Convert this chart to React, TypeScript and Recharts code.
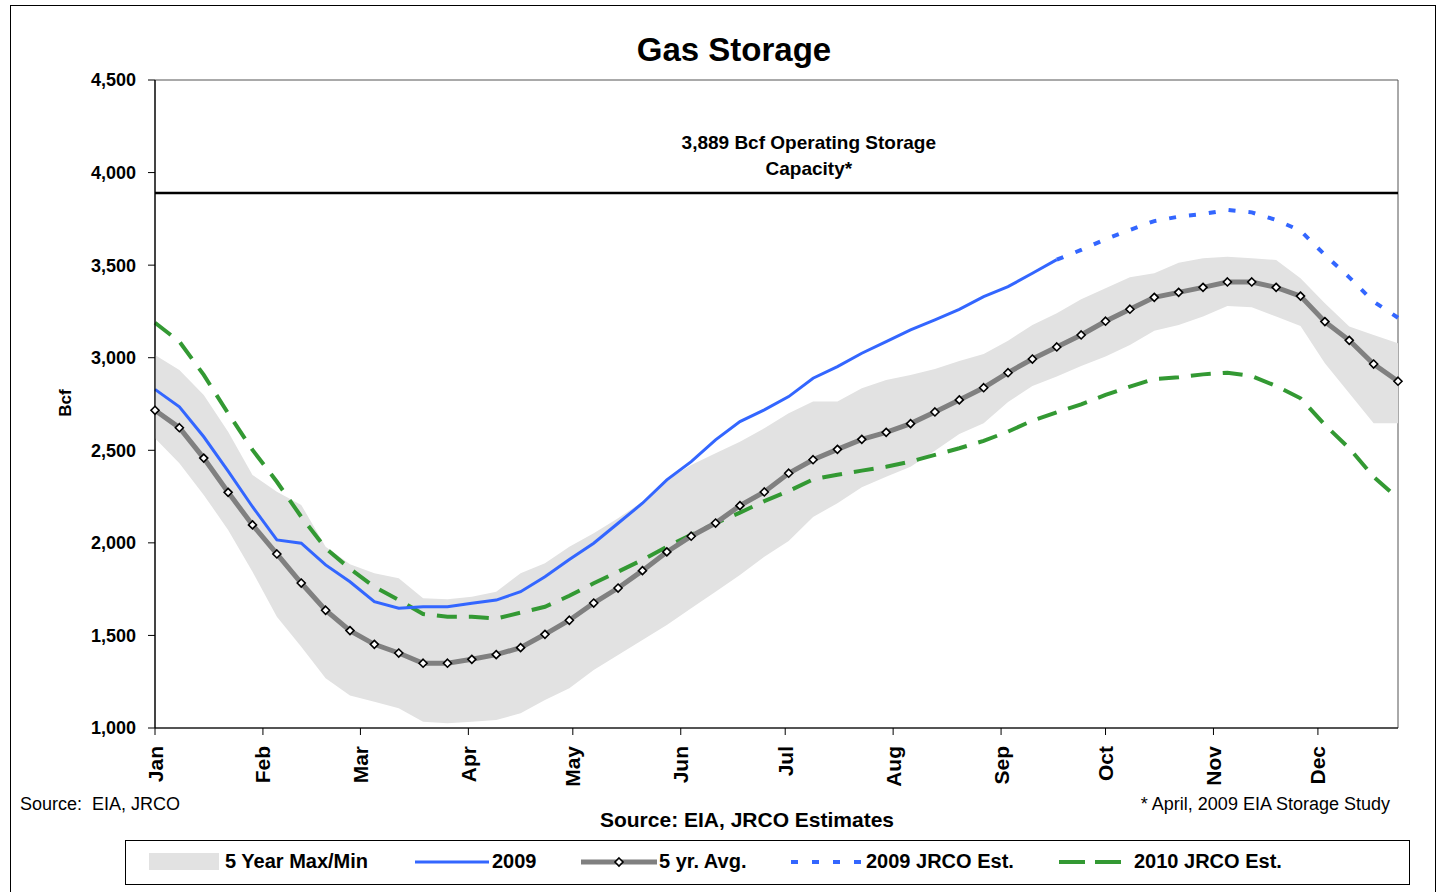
import React from "react";
import { ComposedChart, Area, Line, XAxis, YAxis, ReferenceLine, ReferenceArea, Legend, Label } from "recharts";

const FONT = '"Liberation Sans", Arial, sans-serif';

// day of year for each weekly report (week 0 = Jan 1)
const weekDays = [
  0, 7, 14, 21, 28, 35, 42, 49, 56, 63, 70, 77, 84, 91, 98, 105, 112, 119, 126, 133, 140, 147, 154, 161, 168, 175,
  182, 189, 196, 203, 210, 217, 224, 231, 238, 245, 252, 259, 266, 273, 280, 287, 294, 301, 308, 315, 322, 329, 336, 343, 350, 357,
];

const monthTicks = [0, 31, 59, 90, 120, 151, 181, 212, 243, 273, 304, 334];
const monthNames = ["Jan", "Feb", "Mar", "Apr", "May", "Jun", "Jul", "Aug", "Sep", "Oct", "Nov", "Dec"];
const yTicks = [1000, 1500, 2000, 2500, 3000, 3500, 4000, 4500];

const bandMin = [
  2565, 2430, 2259, 2070, 1844, 1601, 1439, 1269, 1176, 1142, 1107, 1034, 1026, 1034, 1043, 1080, 1151, 1215, 1313, 1394,
  1475, 1556, 1647, 1736, 1827, 1925, 2010, 2140, 2214, 2300, 2357, 2411, 2498, 2588, 2646, 2761, 2847, 2898, 2955, 3006,
  3069, 3146, 3177, 3222, 3279, 3272, 3222, 3171, 2970, 2808, 2646, 2646,
];
const bandMax = [
  3015, 2934, 2799, 2600, 2367, 2276, 2205, 1979, 1885, 1836, 1809, 1701, 1695, 1709, 1736, 1836, 1890, 1979, 2052, 2133,
  2222, 2340, 2421, 2484, 2546, 2619, 2700, 2763, 2763, 2835, 2880, 2907, 2939, 2982, 3020, 3092, 3177, 3240, 3316, 3375,
  3434, 3456, 3513, 3537, 3546, 3537, 3528, 3429, 3294, 3168, 3123, 3078,
];
const avg5yr = [
  2716, 2622, 2458, 2273, 2097, 1940, 1783, 1636, 1526, 1452, 1405, 1350, 1350, 1371, 1396, 1434, 1506, 1582, 1675, 1756,
  1850, 1951, 2036, 2107, 2201, 2275, 2376, 2449, 2505, 2559, 2597, 2644, 2707, 2772, 2838, 2919, 2993, 3058, 3123, 3197,
  3262, 3326, 3353, 3380, 3409, 3409, 3380, 3333, 3195, 3094, 2966, 2873,
];
// actual 2009 (weeks 0..37)
const actual2009 = [
  2829, 2735, 2573, 2387, 2195, 2016, 1998, 1881, 1790, 1682, 1647, 1655, 1655, 1674, 1691, 1736, 1817, 1910, 1998, 2106,
  2214, 2340, 2439, 2556, 2655, 2718, 2790, 2889, 2952, 3024, 3087, 3150, 3204, 3261, 3330, 3384, 3456, 3530,
];
// JRCO estimate for rest of 2009 (weeks 37..51)
const est2009 = [3530, 3582, 3640, 3690, 3738, 3762, 3776, 3798, 3785, 3744, 3686, 3555, 3434, 3303, 3216];
const est2009Start = 37;
const est2010 = [
  3189, 3087, 2907, 2700, 2502, 2330, 2141, 1971, 1860, 1763, 1691, 1616, 1601, 1601, 1591, 1623, 1655, 1714, 1782, 1844,
  1908, 1979, 2043, 2106, 2163, 2225, 2280, 2343, 2368, 2390, 2411, 2439, 2475, 2511, 2551, 2601, 2660, 2705, 2748, 2799,
  2844, 2885, 2894, 2910, 2919, 2901, 2847, 2781, 2637, 2511, 2357, 2241,
];
const capacity = 3889;

const rows = weekDays.map((day, i) => ({
  day,
  band: [bandMin[i], bandMax[i]],
  avg: avg5yr[i],
  y2009: i < actual2009.length ? actual2009[i] : null,
  est2009: i >= est2009Start ? est2009[i - est2009Start] : null,
  est2010: est2010[i],
}));

const BLUE = "#3366ff";
const GREEN = "#339933";
const GRAY = "#808080";
const BAND = "#e2e2e2";

const Diamond = ({ cx, cy }: any) => {
  if (cx == null || cy == null) return null;
  return (
    <path
      d={`M${cx},${cy - 4} L${cx + 4},${cy} L${cx},${cy + 4} L${cx - 4},${cy} Z`}
      fill="#fff"
      stroke="#000"
      strokeWidth={1.6}
    />
  );
};

const MonthTick = ({ x, y, payload }: any) => (
  <g transform={`translate(${x},${y + 9}) rotate(-90)`}>
    <text textAnchor="end" dy="0.36em" fontFamily={FONT} fontWeight={700} fontSize={21} fill="#000">
      {monthNames[monthTicks.indexOf(payload.value)]}
    </text>
  </g>
);

const CapacityLabel = ({ viewBox }: any) => {
  const cx = viewBox.x + viewBox.width * 0.526;
  return (
    <text x={cx} y={viewBox.y - 44} textAnchor="middle" fontFamily={FONT} fontWeight={700} fontSize={19} fill="#000">
      <tspan x={cx}>3,889 Bcf Operating Storage</tspan>
      <tspan x={cx} dy={26}>Capacity*</tspan>
    </text>
  );
};

const legendText: React.CSSProperties = {
  position: "absolute",
  top: 9,
  fontFamily: FONT,
  fontWeight: 700,
  fontSize: 20,
  lineHeight: "23px",
  color: "#000",
  whiteSpace: "nowrap",
};

const GasLegend = () => (
  <div style={{ position: "relative", width: 1285, height: 45, border: "1px solid #000", boxSizing: "border-box", background: "#fff" }}>
    <div style={{ position: "absolute", left: 23, top: 12, width: 70, height: 17, background: BAND }} />
    <span style={{ ...legendText, left: 99 }}>5 Year Max/Min</span>
    <svg style={{ position: "absolute", left: 289, top: 12 }} width={76} height={20}>
      <line x1={0} y1={9} x2={74} y2={9} stroke={BLUE} strokeWidth={3} />
    </svg>
    <span style={{ ...legendText, left: 366 }}>2009</span>
    <svg style={{ position: "absolute", left: 455, top: 12 }} width={78} height={20}>
      <line x1={0} y1={9} x2={76} y2={9} stroke={GRAY} strokeWidth={5} />
      <Diamond cx={38} cy={9} />
    </svg>
    <span style={{ ...legendText, left: 533 }}>5 yr. Avg.</span>
    <svg style={{ position: "absolute", left: 665, top: 12 }} width={74} height={20}>
      <line x1={0} y1={9} x2={72} y2={9} stroke={BLUE} strokeWidth={4} strokeDasharray="7 14" />
    </svg>
    <span style={{ ...legendText, left: 740 }}>2009 JRCO Est.</span>
    <svg style={{ position: "absolute", left: 933, top: 12 }} width={66} height={20}>
      <line x1={0} y1={9} x2={64} y2={9} stroke={GREEN} strokeWidth={4} strokeDasharray="26 10" />
    </svg>
    <span style={{ ...legendText, left: 1008 }}>2010 JRCO Est.</span>
  </div>
);

const GasStorageChart = () => {
  return (
    <div style={{ position: "absolute", left: 0, top: 0, width: 1438, height: 892, overflow: "hidden", background: "#fff" }}>
      <div style={{ position: "absolute", left: 10, top: 5, width: 1424, height: 920, border: "1px solid #000" }} />

      <div style={{ position: "absolute", left: 0, top: 0 }}>
        <ComposedChart width={1438} height={892} data={rows} margin={{ top: 80, right: 40, bottom: 104, left: 40 }}>
          <ReferenceArea x1={0} x2={357} y1={1000} y2={4500} fill="none" stroke="#555" strokeWidth={1} />
          <XAxis
            dataKey="day"
            type="number"
            domain={[0, 357]}
            ticks={monthTicks}
            interval={0}
            tick={<MonthTick />}
            tickSize={7}
            height={60}
            axisLine={{ stroke: "#000", strokeWidth: 1.2 }}
            tickLine={{ stroke: "#000" }}
          />
          <YAxis
            domain={[1000, 4500]}
            ticks={yTicks}
            interval={0}
            width={115}
            tickSize={7}
            tickMargin={12}
            tickFormatter={(v: number) => v.toLocaleString("en-US")}
            tick={{ fill: "#000", fontFamily: FONT, fontWeight: 700, fontSize: 18 }}
            axisLine={{ stroke: "#000", strokeWidth: 1.2 }}
            tickLine={{ stroke: "#000" }}
          />
          <Area dataKey="band" type="linear" stroke="none" fill={BAND} fillOpacity={1} isAnimationActive={false} />
          <ReferenceLine y={capacity} stroke="#000" strokeWidth={2.5}>
            <Label content={<CapacityLabel />} />
          </ReferenceLine>
          <Line dataKey="est2010" type="linear" stroke={GREEN} strokeWidth={4} strokeDasharray="20 12" dot={false} isAnimationActive={false} />
          <Line dataKey="est2009" type="linear" stroke={BLUE} strokeWidth={4} strokeDasharray="7 13" dot={false} isAnimationActive={false} />
          <Line dataKey="y2009" type="linear" stroke={BLUE} strokeWidth={3} dot={false} isAnimationActive={false} />
          <Line dataKey="avg" type="linear" stroke={GRAY} strokeWidth={5} dot={<Diamond />} activeDot={false} isAnimationActive={false} />
          <Legend content={() => <GasLegend />} verticalAlign="middle" align="center" wrapperStyle={{ left: 125, top: 840, width: 1285, height: 45 }} />
        </ComposedChart>
      </div>

      <div style={{ position: "absolute", left: 434, top: 30, width: 600, textAlign: "center", fontFamily: FONT, fontWeight: 700, fontSize: 33, lineHeight: "40px" }}>
        Gas Storage
      </div>
      <div style={{ position: "absolute", left: 36, top: 393, width: 60, height: 20, textAlign: "center", transform: "rotate(-90deg)", fontFamily: FONT, fontWeight: 700, fontSize: 17, lineHeight: "20px" }}>
        Bcf
      </div>
      <div style={{ position: "absolute", left: 20, top: 794, fontFamily: FONT, fontSize: 18, lineHeight: "21px", whiteSpace: "pre" }}>
        {"Source:  EIA, JRCO"}
      </div>
      <div style={{ position: "absolute", right: 48, top: 794, fontFamily: FONT, fontSize: 18, lineHeight: "21px", whiteSpace: "pre" }}>
        * April, 2009 EIA Storage Study
      </div>
      <div style={{ position: "absolute", left: 447, top: 807, width: 600, textAlign: "center", fontFamily: FONT, fontWeight: 700, fontSize: 21, lineHeight: "25px" }}>
        Source: EIA, JRCO Estimates
      </div>
    </div>
  );
};

export default function App() {
  return <GasStorageChart />;
}
